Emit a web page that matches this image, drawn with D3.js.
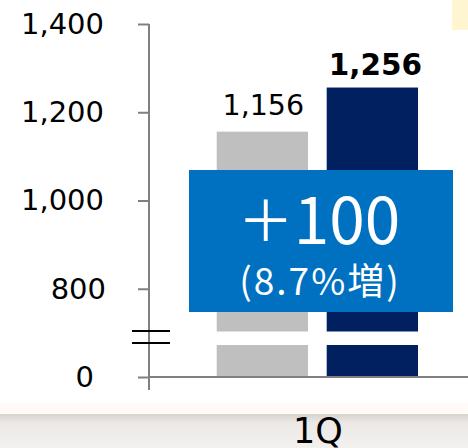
<!DOCTYPE html>
<html>
<head>
<meta charset="utf-8">
<script src="https://cdn.jsdelivr.net/npm/d3@7"></script>
<style>
  html, body { margin: 0; padding: 0; background: #fff; }
  svg { display: block; }
</style>
</head>
<body>
<svg id="chart" width="468" height="448"></svg>
<script>
// data
var categories = ["1Q"];
var seriesNames = ["prev", "curr"];
var seriesValues = [1156, 1256];
var valueLabels = ["1,156", "1,256"];
var tickValues = [600, 800, 1000, 1200, 1400];   // 600 sits at the axis break, shown as 0
var tickLabels = ["0", "800", "1,000", "1,200", "1,400"];
var diffSign = "＋";
var diffLabel = "100";
var diffPctLabel = "(8.7%増)";

var svg = d3.select("#chart");
var W = 468, H = 448;

// bottom strip + top-right note
var defs = svg.append("defs");
var grad = defs.append("linearGradient").attr("id", "strip").attr("x1", 0).attr("y1", 0).attr("x2", 0).attr("y2", 1);
grad.append("stop").attr("offset", "0%").attr("stop-color", "#d6d2ce");
grad.append("stop").attr("offset", "25%").attr("stop-color", "#ebe8e5");
grad.append("stop").attr("offset", "100%").attr("stop-color", "#f3f1ef");
svg.append("rect").attr("x", 0).attr("y", 403).attr("width", W).attr("height", 12).attr("fill", "#fffaf6");
svg.append("rect").attr("x", 0).attr("y", 414).attr("width", W).attr("height", H - 414).attr("fill", "url(#strip)");
svg.append("rect").attr("x", 452).attr("y", 0).attr("width", 16).attr("height", 30).attr("fill", "#fff5d0");

var y = d3.scaleLinear().domain([600, 1400]).range([377, 24]);
var x = d3.scaleBand().domain(categories).range([216.7, 418]);
var xs = d3.scaleBand().domain(seriesNames).range([0, x.bandwidth()]).paddingInner(0.17);

var colors = { prev: "#bfbfbf", curr: "#002060" };

var g = svg.append("g").attr("transform", "translate(" + x(categories[0]) + ",0)");
g.selectAll("rect.bar").data(seriesValues).enter().append("rect")
  .attr("class", "bar")
  .attr("x", function (d, i) { return xs(seriesNames[i]); })
  .attr("width", xs.bandwidth())
  .attr("y", function (d) { return y(d); })
  .attr("height", function (d) { return y(600) - y(d); })
  .attr("fill", function (d, i) { return colors[seriesNames[i]]; });

// value labels
g.selectAll("text.val").data(seriesValues).enter().append("text")
  .attr("class", "val")
  .attr("x", function (d, i) { return xs(seriesNames[i]) + xs.bandwidth() / 2 + (i ? 3 : 1); })
  .attr("y", function (d, i) { return y(d) - (i ? 13 : 17); })
  .attr("text-anchor", "middle")
  .attr("font-family", "DejaVu Sans, Verdana, sans-serif")
  .attr("font-size", function (d, i) { return i ? 29.5 : 28.5; })
  .attr("font-weight", function (d, i) { return i ? "bold" : "normal"; })
  .attr("fill", "#000")
  .text(function (d, i) { return valueLabels[i]; });

// white gap through the bars at the break
svg.append("rect").attr("x", 160).attr("y", 331.5).attr("width", 290).attr("height", 13.5).attr("fill", "#fff");

// y axis
var yAxis = d3.axisLeft(y).tickValues(tickValues)
  .tickFormat(function (d, i) { return tickLabels[i]; })
  .tickSize(11).tickSizeOuter(0).tickPadding(34);
var ga = svg.append("g").attr("transform", "translate(149,0)").call(yAxis);
ga.select(".domain").remove();
ga.selectAll(".tick line").attr("stroke", "#808080").attr("stroke-width", 2);
ga.selectAll(".tick text")
  .attr("font-family", "DejaVu Sans, Verdana, sans-serif")
  .attr("font-size", 29)
  .attr("fill", "#000")
  .attr("dx", function (d, i) { return i === 0 ? -10 : (i === 1 ? 2 : 0); });
svg.append("line").attr("x1", 149).attr("x2", 149).attr("y1", y(1400)).attr("y2", 390)
  .attr("stroke", "#808080").attr("stroke-width", 2);
svg.append("line").attr("x1", 149).attr("x2", W).attr("y1", y(600)).attr("y2", y(600))
  .attr("stroke", "#808080").attr("stroke-width", 2);

// break marks
svg.selectAll("line.brk").data([331, 343]).enter().append("line")
  .attr("class", "brk")
  .attr("x1", 132).attr("x2", 170)
  .attr("y1", function (d) { return d; }).attr("y2", function (d) { return d; })
  .attr("stroke", "#000").attr("stroke-width", 2);

// category label
svg.selectAll("text.cat").data(categories).enter().append("text")
  .attr("class", "cat")
  .attr("x", 318).attr("y", 443)
  .attr("text-anchor", "middle")
  .attr("font-family", "DejaVu Sans, Verdana, sans-serif")
  .attr("font-size", 35)
  .attr("fill", "#000")
  .text(function (d) { return d; });

// difference box
svg.append("rect").attr("x", 189).attr("y", 170).attr("width", 264).attr("height", 142).attr("fill", "#0070c0");
var tDiff = svg.append("text").attr("x", 319).attr("y", 244).attr("text-anchor", "middle")
  .attr("font-family", "Noto Sans CJK JP, sans-serif").attr("font-size", 64).attr("fill", "#fff");
tDiff.append("tspan").attr("font-size", 56).attr("dy", -3).text(diffSign);
tDiff.append("tspan").attr("dy", 3).text(diffLabel);
svg.append("text").attr("x", 320).attr("y", 295).attr("text-anchor", "middle")
  .attr("font-family", "Noto Sans CJK JP, sans-serif").attr("font-size", 37)
  .attr("letter-spacing", 2).attr("fill", "#fff")
  .text(diffPctLabel);
</script>
</body>
</html>
